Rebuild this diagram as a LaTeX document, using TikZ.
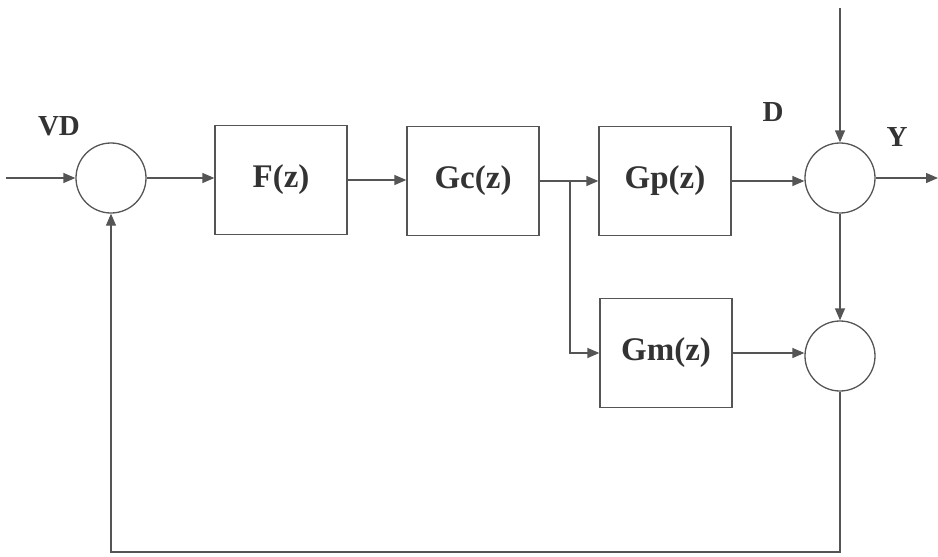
\documentclass[tikz,border=0pt]{standalone}
\usepackage{fontspec}
\setmainfont{Liberation Serif}
\usetikzlibrary{arrows.meta}
\definecolor{ln}{HTML}{555555}
\definecolor{tx}{HTML}{333333}
\begin{document}
\begin{tikzpicture}[x=1pt,y=-1pt,
  blk/.style={draw=ln,line width=1.3pt,minimum width=132pt,minimum height=109pt,inner sep=0pt,
    font=\fontsize{33}{33}\selectfont\bfseries,text=tx},
  sumj/.style={circle,draw=ln,line width=1.3pt,minimum size=70pt,inner sep=0pt},
  lbl/.style={font=\fontsize{29}{29}\selectfont\bfseries,text=tx,inner sep=0pt},
  sig/.style={draw=ln,line width=1.3pt,-{Triangle[length=12pt,width=10pt]}},
  wire/.style={draw=ln,line width=1.3pt}]
\useasboundingbox (0,0) rectangle (938,557);
\node[sumj] (s1) at (111,178) {};
\node[blk] (f) at (281,180) {F(z)};
\node[blk] (gc) at (473,181) {Gc(z)};
\node[blk] (gp) at (665,181) {Gp(z)};
\node[sumj] (s2) at (840,178) {};
\node[blk] (gm) at (666,353) {Gm(z)};
\node[sumj] (s3) at (840,356) {};
\coordinate (in) at (6,178);
\coordinate (dtop) at (840,8);
\coordinate (yout) at (938,178);
\coordinate (br) at (570,180);
\coordinate (fb1) at (840,552);
\coordinate (fb2) at (111,552);
\node[lbl] (vd) at (59,126) {VD};
\node[lbl] (d) at (773,112) {D};
\node[lbl] (y) at (897,137) {Y};
\path[sig] (in) -- (s1.west);
\path[sig] (s1.east) -- (f.west |- s1.east);
\path[sig] (f.east) -- (gc.west |- f.east);
\path[sig] (gc.east) -- (gp.west |- gc.east);
\path[sig] (gp.east) -- (s2.west |- gp.east);
\path[sig] (dtop) -- (s2.north);
\path[sig] (s2.east) -- (yout);
\path[sig] (s2.south) -- (s3.north);
\path[sig] (br) |- (gm.west);
\path[sig] (gm.east) -- (s3.west |- gm.east);
\path[sig] (s3.south) -- (fb1) -- (fb2) -- (s1.south);
\end{tikzpicture}
\end{document}
